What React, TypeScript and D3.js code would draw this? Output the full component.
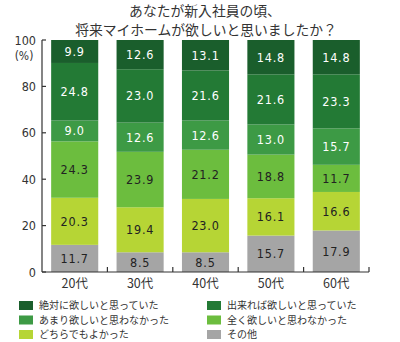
import React from "react";
import * as d3 from "d3";

const categories = ["20代", "30代", "40代", "50代", "60代"];
const seriesNames = [
  "その他",
  "どちらでもよかった",
  "全く欲しいと思わなかった",
  "あまり欲しいと思わなかった",
  "出来れば欲しいと思っていた",
  "絶対に欲しいと思っていた",
];
const sonota = [11.7, 8.5, 8.5, 15.7, 17.9];
const dochira = [20.3, 19.4, 23.0, 16.1, 16.6];
const mattaku = [24.3, 23.9, 21.2, 18.8, 11.7];
const amari = [9.0, 12.6, 12.6, 13.0, 15.7];
const dekireba = [24.8, 23.0, 21.6, 21.6, 23.3];
const zettai = [9.9, 12.6, 13.1, 14.8, 14.8];
const seriesValues = [sonota, dochira, mattaku, amari, dekireba, zettai];
const colors = ["#a5a5a5", "#b6d535", "#6cbd3e", "#3d9a45", "#237a35", "#1a5e2c"];
const textColors = ["#222", "#222", "#222", "#fff", "#fff", "#fff"];
const yTicks = [0, 20, 40, 60, 80, 100];
const legendOrder = [5, 4, 3, 2, 1, 0];

export default function App() {
  const W = 400, H = 342;
  const x0 = 42, x1 = 369, yTop = 40, yBot = 272;
  const x = d3.scaleBand<string>().domain(categories).range([x0, x1]).paddingInner(0.28).paddingOuter(0.14);
  const y = d3.scaleLinear().domain([0, 100]).range([yBot, yTop]);
  const rows = categories.map((c, i) => {
    const r: any = { cat: c };
    seriesNames.forEach((s, k) => (r[s] = seriesValues[k][i]));
    return r;
  });
  const stacked = d3.stack<any>().keys(seriesNames)(rows);
  const font = "'Noto Sans CJK JP', sans-serif";
  const numFont = "'DejaVu Sans Condensed', 'DejaVu Sans', sans-serif";

  return (
    <svg width={W} height={H} style={{ position: "absolute", left: 0, top: 0, background: "#fff" }}>
      <text x={205} y={15.8} textAnchor="middle" fontFamily={font} fontSize={13.8} fill="#333">あなたが新入社員の頃、</text>
      <text x={206} y={35.2} textAnchor="middle" fontFamily={font} fontSize={13.8} fill="#333">将来マイホームが欲しいと思いましたか？</text>

      {stacked.map((layer, k) =>
        layer.map((d, i) => {
          const bx = x(categories[i])!;
          const yt = y(d[1]);
          const yb = y(d[0]);
          const v = seriesValues[k][i];
          return (
            <g key={`${k}-${i}`}>
              <rect x={bx} y={yt} width={x.bandwidth()} height={yb - yt} fill={colors[k]} />
              <text x={bx + x.bandwidth() / 2} y={(yt + yb) / 2 + 4.5} textAnchor="middle"
                fontFamily={numFont} fontSize={12.5} letterSpacing={0.8} fill={textColors[k]}>
                {v.toFixed(1)}
              </text>
            </g>
          );
        })
      )}

      <line x1={x0} x2={x0} y1={yTop} y2={yBot} stroke="#333" strokeWidth={1.2} />
      <line x1={x0} x2={x1} y1={yBot} y2={yBot} stroke="#333" strokeWidth={1.2} />
      {yTicks.map((t) => (
        <g key={t}>
          <line x1={x0} x2={x0 + 4} y1={y(t)} y2={y(t)} stroke="#333" strokeWidth={1.2} />
          <text x={36} y={y(t) + 4.5} textAnchor="end" fontFamily={numFont} fontSize={12.5} fill="#333">{t}</text>
        </g>
      ))}
      <text x={24} y={60} textAnchor="middle" fontFamily={numFont} fontSize={12} fill="#333">(%)</text>
      {categories.map((c, i) => {
        const bx = x(c)! + x.bandwidth() + (x.step() - x.bandwidth()) / 2;
        return (
          <g key={c}>
            <line x1={bx} x2={bx} y1={yBot} y2={yBot - 5} stroke="#333" strokeWidth={1.2} />
            <text x={x(c)! + x.bandwidth() / 2} y={288} textAnchor="middle" fontFamily={font} fontSize={12.5} fill="#333">{c}</text>
          </g>
        );
      })}

      {legendOrder.map((k, j) => {
        const col = j % 2;
        const row = Math.floor(j / 2);
        const lx = col === 0 ? 19 : 207;
        const ly = 301 + row * 14.5;
        return (
          <g key={k}>
            <rect x={lx} y={ly} width={14} height={9} fill={colors[k]} />
            <text x={lx + 20} y={ly + 8.3} fontFamily={font} fontSize={10} fill="#333">{seriesNames[k]}</text>
          </g>
        );
      })}
    </svg>
  );
}
